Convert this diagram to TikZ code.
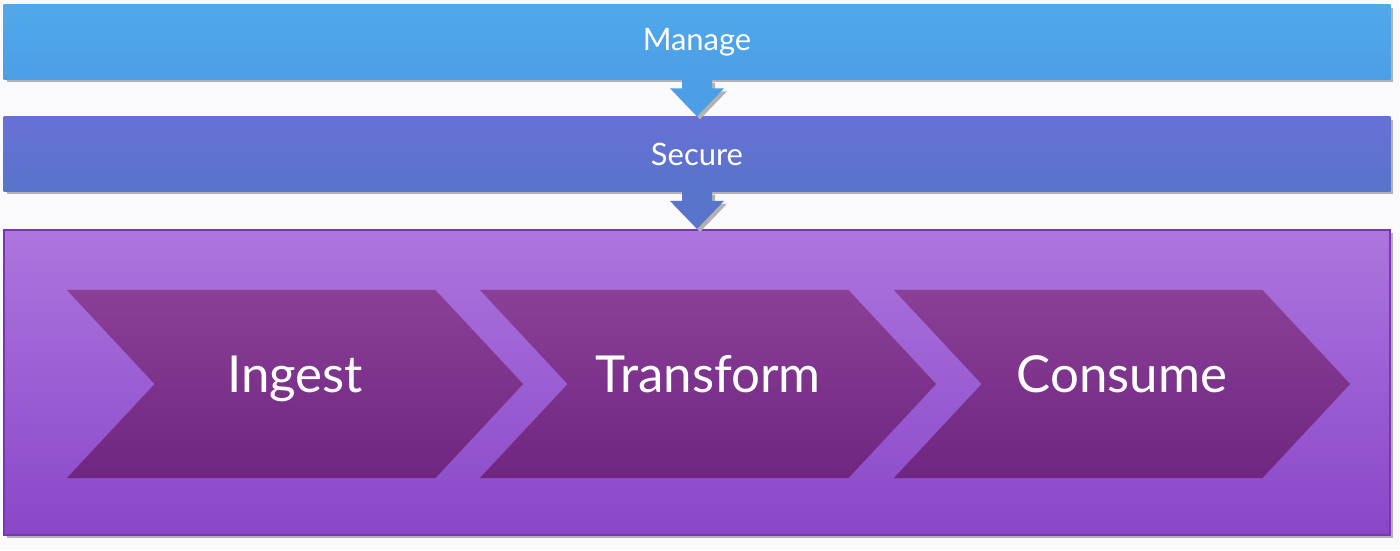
\documentclass[tikz,border=0pt]{standalone}
\usepackage{fontspec}
\setmainfont{Lato}
\usetikzlibrary{positioning,shapes.symbols,shadows,calc}
\definecolor{pagebg}{HTML}{FAFAFD}
\definecolor{managetop}{HTML}{50A8EA}
\definecolor{managebot}{HTML}{4C9FE6}
\definecolor{securetop}{HTML}{6870D6}
\definecolor{securebot}{HTML}{5874CB}
\definecolor{frametop}{HTML}{AD75DE}
\definecolor{framebot}{HTML}{8947C8}
\definecolor{frameline}{HTML}{7A36B0}
\definecolor{chevtop}{HTML}{8A4096}
\definecolor{chevmid}{HTML}{7C3389}
\definecolor{chevbot}{HTML}{6F2680}
\tikzset{
  shade/.style={drop shadow={shadow xshift=0.03cm,shadow yshift=-0.03cm,fill=black!30,opacity=1}},
  bar/.style={rectangle,minimum width=13.86cm,minimum height=0.74cm,inner sep=0pt,
    text=white,font=\fontsize{8.8}{11}\selectfont,shade},
  chevron/.style={signal,signal from=west,signal to=east,signal pointer angle=94,
    minimum width=4.56cm,minimum height=1.88cm,inner sep=0pt,text=white,
    text height=9.8pt,text depth=4.7pt,
    font=\fontsize{14.5}{17}\selectfont,top color=chevtop,middle color=chevmid,bottom color=chevbot}
}
\begin{document}
\begin{tikzpicture}[x=0.01cm,y=-0.01cm]
\fill[pagebg] (0,0) rectangle (1400,550);
\useasboundingbox (0,0) rectangle (1400,550);
% bars
\node[bar,top color=managetop,bottom color=managebot] (manage) at (697,42) {Manage};
\node[bar,top color=securetop,bottom color=securebot] (secure) at (697,154) {Secure};
\node[rectangle,minimum width=13.86cm,minimum height=3.05cm,inner sep=0pt,shade,
  draw=frameline,line width=0.6pt,top color=frametop,bottom color=framebot] (frame) at (697,382.5) {};
% block arrows
\foreach \a/\b/\c in {manage/secure/managebot,secure/frame/securebot}
  \fill[\c,shade] let \p1=(\a.south), \p2=(\b.north) in
    (\x1-0.15cm,\y1) -- (\x1-0.15cm,\y2+0.28cm) -- (\x1-0.27cm,\y2+0.28cm) -- (\x1,\y2)
    -- (\x1+0.27cm,\y2+0.28cm) -- (\x1+0.15cm,\y2+0.28cm) -- (\x1+0.15cm,\y1) -- cycle;
% steps
\node[chevron] (ingest) at (295,384) {Ingest};
\node[chevron] (transform) at (708,384) {Transform};
\node[chevron] (consume) at (1122,384) {Consume};
\end{tikzpicture}
\end{document}
